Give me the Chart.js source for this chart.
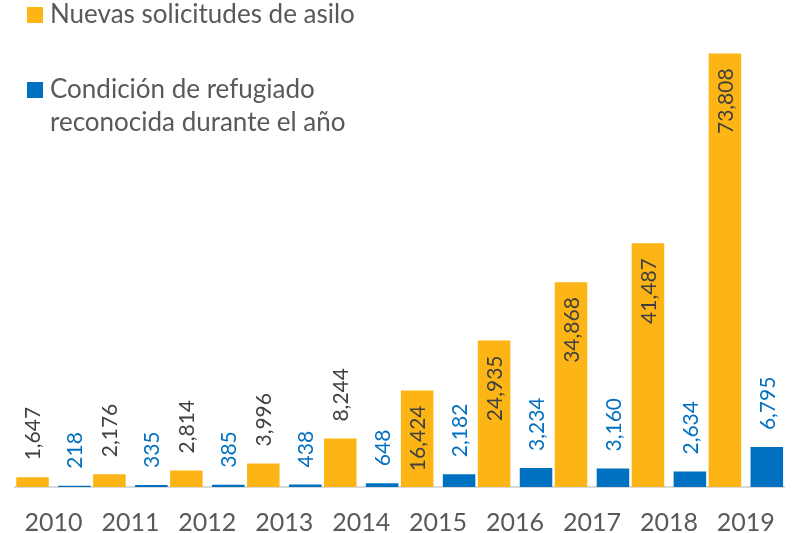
<!DOCTYPE html>
<html>
<head>
<meta charset="utf-8">
<script src="https://cdn.jsdelivr.net/npm/chart.js@4.4.1/dist/chart.umd.min.js"></script>
<style>
  html, body { margin: 0; padding: 0; background: #ffffff; }
  #wrap { width: 798px; height: 533px; position: relative; }
</style>
</head>
<body>
<div id="wrap"><canvas id="c" width="798" height="533"></canvas></div>
<script>
const years = ['2010', '2011', '2012', '2013', '2014', '2015', '2016', '2017', '2018', '2019'];
const nuevasSolicitudes = [1647, 2176, 2814, 3996, 8244, 16424, 24935, 34868, 41487, 73808];
const condicionRefugiado = [218, 335, 385, 438, 648, 2182, 3234, 3160, 2634, 6795];
const seriesNames = ['Nuevas solicitudes de asilo', 'Condición de refugiado reconocida durante el año'];
const legendLines = [['Nuevas solicitudes de asilo'], ['Condición de refugiado', 'reconocida durante el año']];

const ORANGE = '#FDB515';
const BLUE = '#0070C0';
const FONT = 'Lato, "Noto Sans", sans-serif';

const labelPlugin = {
  id: 'barLabels',
  afterDatasetsDraw(chart) {
    const ctx = chart.ctx;
    ctx.save();
    ctx.font = '21px ' + FONT;
    ctx.textBaseline = 'middle';
    chart.data.datasets.forEach((ds, di) => {
      const meta = chart.getDatasetMeta(di);
      meta.data.forEach((bar, i) => {
        const v = ds.data[i];
        const txt = v.toLocaleString('en-US');
        const h = bar.base - bar.y;
        const inside = di === 0 && h > 80;
        ctx.save();
        ctx.translate(bar.x, bar.y);
        ctx.rotate(-Math.PI / 2);
        if (inside) {
          ctx.textAlign = 'right';
          ctx.fillStyle = '#404040';
          ctx.fillText(txt, -15, 1);
        } else {
          ctx.textAlign = 'left';
          ctx.fillStyle = di === 0 ? '#404040' : BLUE;
          ctx.fillText(txt, 17, 1);
        }
        ctx.restore();
      });
    });
    ctx.restore();
  }
};

const legendPlugin = {
  id: 'customLegend',
  afterDraw(chart) {
    const ctx = chart.ctx;
    ctx.save();
    ctx.font = '26px ' + FONT;
    ctx.textBaseline = 'alphabetic';
    ctx.textAlign = 'left';
    const colors = [ORANGE, BLUE];
    const tops = [7, 82];
    legendLines.forEach((lines, k) => {
      ctx.fillStyle = colors[k];
      ctx.fillRect(27, tops[k], 16, 16);
      ctx.fillStyle = '#595959';
      lines.forEach((ln, j) => {
        ctx.fillText(ln, 50, tops[k] + 16 + j * 33);
      });
    });
    ctx.restore();
  }
};

new Chart(document.getElementById('c'), {
  type: 'bar',
  data: {
    labels: years,
    datasets: [
      { label: seriesNames[0], data: nuevasSolicitudes, backgroundColor: ORANGE,
        categoryPercentage: 1.09, barPercentage: 0.776 },
      { label: seriesNames[1], data: condicionRefugiado, backgroundColor: BLUE,
        categoryPercentage: 1.09, barPercentage: 0.776 }
    ]
  },
  options: {
    responsive: false,
    animation: false,
    layout: { padding: { left: 15, right: 3, top: 17, bottom: 0 } },
    plugins: {
      legend: { display: false },
      tooltip: { enabled: false }
    },
    scales: {
      x: {
        grid: { display: false, drawTicks: false, tickLength: 0 },
        border: { display: true, color: '#D9D9D9', width: 2 },
        ticks: { color: '#595959', font: { family: FONT, size: 25, lineHeight: 1 }, padding: 23, maxRotation: 0 },
        afterFit(scale) { scale.height = 46; }
      },
      y: {
        display: false,
        min: 0,
        max: 80000
      }
    }
  },
  plugins: [labelPlugin, legendPlugin]
});
</script>
</body>
</html>
